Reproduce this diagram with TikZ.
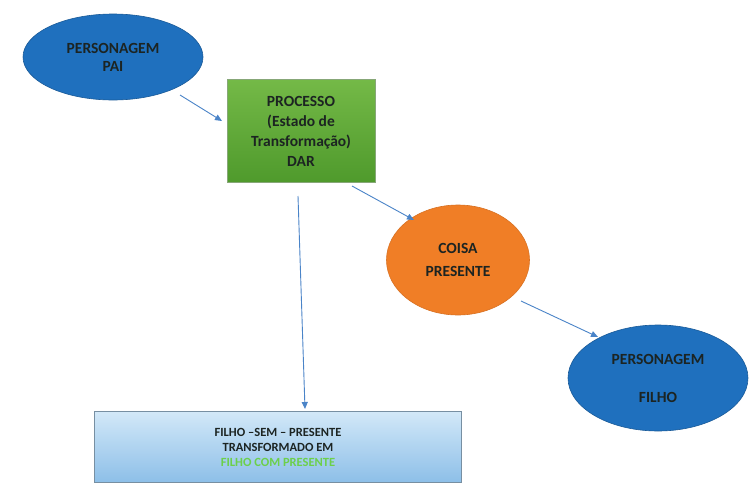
\documentclass[tikz,border=0pt]{standalone}
\usepackage{fontspec}
\setmainfont{Carlito}
\usetikzlibrary{shapes.geometric,arrows.meta}
\definecolor{ellblue}{HTML}{1F70BE}
\definecolor{ellorange}{HTML}{F07E26}
\definecolor{arrblue}{HTML}{4A84C8}
\definecolor{txtdark}{HTML}{1C2422}
\definecolor{gtop}{HTML}{74B947}
\definecolor{gbot}{HTML}{4F9A2C}
\definecolor{btop}{HTML}{D2E8F8}
\definecolor{bbot}{HTML}{8DBFE8}
\definecolor{presgreen}{HTML}{6CD04A}
\tikzset{
  x=1pt,y=-1pt,
  bluell/.style={ellipse,fill=ellblue,draw=ellblue!80!black,line width=0.6pt,text=txtdark,font=\fontsize{15.5}{18}\selectfont\bfseries,align=center,inner sep=0pt},
  orell/.style={ellipse,fill=ellorange,draw=ellorange!90!black,line width=0.6pt,text=txtdark,font=\fontsize{15.5}{18}\selectfont\bfseries,align=center,inner sep=0pt},
  procbox/.style={rectangle,top color=gtop,bottom color=gbot,draw=gbot!70!black!60,line width=0.6pt,text=txtdark,font=\fontsize{15.5}{20}\selectfont\bfseries,align=center},
  resbox/.style={rectangle,top color=btop,bottom color=bbot,draw=bbot!60!black!80,line width=0.6pt,text=txtdark,font=\fontsize{12.5}{15}\selectfont\bfseries,align=center},
  conn/.style={draw=arrblue,line width=0.9pt,-{Triangle[length=7pt,width=6pt]}}
}
\begin{document}
\begin{tikzpicture}
\useasboundingbox[fill=white] (0,0) rectangle (753,493);
\node[bluell,minimum width=180,minimum height=86] (pai) at (113,57) {PERSONAGEM\\PAI};
\node[procbox,minimum width=148,minimum height=103] (proc) at (301,131) {PROCESSO\\(Estado de\\Transformação)\\DAR};
\node[orell,minimum width=143,minimum height=110] (coisa) at (458,260) {COISA\\[5pt]PRESENTE};
\node[bluell,minimum width=180,minimum height=106] (filho) at (658,378) {PERSONAGEM\\[20pt]FILHO};
\node[resbox,minimum width=367,minimum height=71] (res) at (278,447) {FILHO –SEM – PRESENTE\\TRANSFORMADO EM\\\textcolor{presgreen}{FILHO COM PRESENTE}};
\coordinate (a1) at (180,95);
\coordinate (a2) at (222,121);
\coordinate (b1) at (352,186);
\coordinate (b2) at (414,220);
\coordinate (c1) at (521,301);
\coordinate (c2) at (598,337);
\coordinate (d1) at (298,196);
\coordinate (d2) at (305,409);
\draw[conn] (a1) -- (a2);
\draw[conn] (b1) -- (b2);
\draw[conn] (c1) -- (c2);
\draw[conn] (d1) -- (d2);
\end{tikzpicture}
\end{document}
